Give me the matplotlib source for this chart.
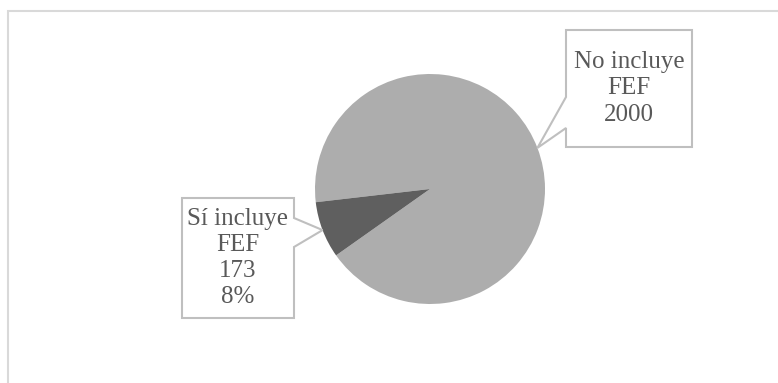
import numpy as np
import matplotlib.pyplot as plt
from matplotlib.patches import Polygon, Rectangle

# Datos: registros que incluyen o no FEF
categorias = ["No incluye\nFEF", "Sí incluye\nFEF"]
valores = [2000, 173]
colores = ["#ADADAD", "#5F5F5F"]

W, H = 778, 383
fig = plt.figure(figsize=(W / 100, H / 100), dpi=100)
ax = fig.add_axes([0, 0, 1, 1])
ax.axis("off")

# marco del área del gráfico
ax.add_patch(Rectangle((8, -10), W + 20, H - 11 + 10, fill=False,
                       edgecolor="#D9D9D9", lw=1.5))

# pastel centrado en (430, 194) con radio de 115 px
cx, cy, r = 430, H - 189, 115
wedges, _ = ax.pie(valores, colors=colores, startangle=186.6,
                   counterclock=False, center=(cx, cy), radius=r,
                   wedgeprops=dict(linewidth=0))
ax.set_xlim(0, W)
ax.set_ylim(0, H)
ax.set_aspect("equal")

total = sum(valores)
textos = [
    f"{categorias[0]}\n{valores[0]}",
    f"{categorias[1]}\n{valores[1]}\n{valores[1] / total:.0%}",
]

# cajas de las etiquetas (x0, x1, y0, y1 en px desde arriba) y lado del puntero
cajas = [(566, 692, 30, 147, "left", 97, 128),
         (182, 294, 198, 318, "right", 218, 247)]

for w, txt, (x0, x1, y0, y1, lado, p0, p1) in zip(wedges, textos, cajas):
    ang = np.deg2rad((w.theta1 + w.theta2) / 2)
    tx, ty = cx + r * np.cos(ang), cy + r * np.sin(ang)
    Y0, Y1, P0, P1 = H - y0, H - y1, H - p0, H - p1
    if lado == "left":
        pts = [(x0, Y0), (x1, Y0), (x1, Y1), (x0, Y1), (x0, P1), (tx, ty), (x0, P0)]
    else:
        pts = [(x0, Y0), (x1, Y0), (x1, P0), (tx, ty), (x1, P1), (x1, Y1), (x0, Y1)]
    ax.add_patch(Polygon(pts, closed=True, facecolor="white",
                         edgecolor="#BFBFBF", lw=1.5, zorder=3))
    ax.text((x0 + x1) / 2, (Y0 + Y1) / 2, txt, ha="center", va="center",
            family="Liberation Serif", fontsize=18, color="#595959",
            linespacing=1.25, zorder=4)

fig.savefig("out.png", dpi=100)
